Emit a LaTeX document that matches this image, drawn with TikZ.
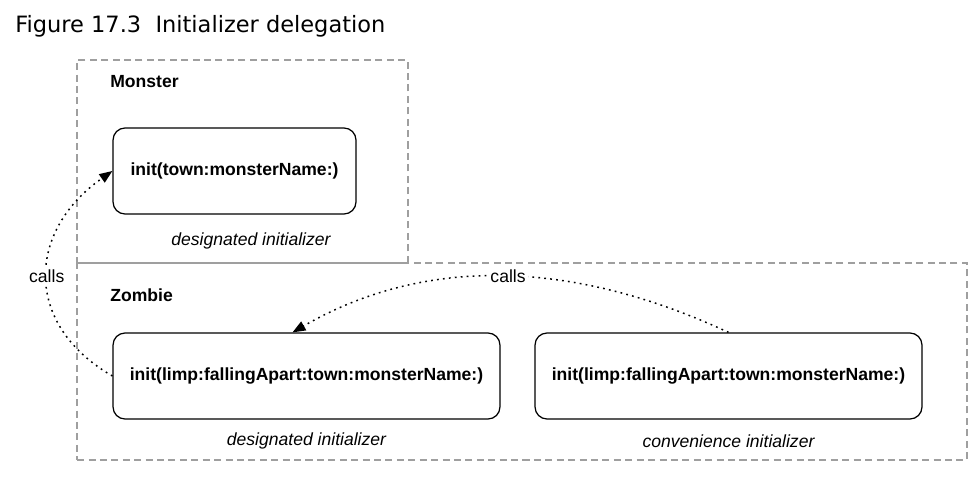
\documentclass[tikz,border=0pt]{standalone}
\usepackage{fontspec}
\setmainfont{Liberation Sans}
\newfontfamily\figfont{DejaVu Sans}
\usetikzlibrary{arrows.meta}

\begin{document}
\begin{tikzpicture}[x=0.02cm,y=-0.02cm]

    \tikzstyle{group}+=[
        draw=gray!75,
        dash pattern=on 4pt off 2.5pt,
        line width = 0.7pt,
        inner sep=0
    ]
    \tikzstyle{init}+=[
        draw,
        rounded corners=2.4mm,
        line width = 0.7pt,
        minimum height=1.72cm,
        font=\fontsize{10}{12}\selectfont\bfseries
    ]
    \tikzstyle{classname}+=[
        anchor=west,
        inner sep=0,
        font=\fontsize{10}{12}\selectfont\bfseries
    ]
    \tikzstyle{kind}+=[
        font=\fontsize{10}{12}\selectfont\itshape
    ]
    \tikzstyle{calls}+=[
        -{Triangle[length=2.6mm,width=2mm]},
        dash pattern=on 1pt off 2.4pt,
        line width = 0.85pt
    ]
    \tikzstyle{callslabel}+=[
        fill=white,
        inner sep=1.5pt,
        font=\fontsize{10}{12}\selectfont
    ]

    \useasboundingbox (0,0) rectangle (972,476);

    % ----------------------------------------------------------------------------
    \coordinate(monsterpos) at (242.5,161.5);
    \coordinate(zombiepos) at (522,361.5);
    \coordinate(minitpos) at (234.5,171);
    \coordinate(zdesigpos) at (306.5,376);
    \coordinate(zconvpos) at (728.5,376);

    % ----------------------------------------------------------------------------
    \node[anchor=base west,inner sep=0,font=\figfont\fontsize{12.8}{15}\selectfont] (title) at (15,33) {Figure 17.3\ \ Initializer delegation};

    % ----------------------------------------------------------------------------
    \node[group,minimum width=6.62cm,minimum height=4.06cm] (monster) at (monsterpos) {};
    \node[group,minimum width=17.8cm,minimum height=3.94cm] (zombie) at (zombiepos) {};
    \node[classname] (monstername) at ([shift=(monsterpos)]-132.5,-79.5) {Monster};
    \node[classname] (zombiename) at ([shift=(zombiepos)]-412,-66.5) {Zombie};

    % ----------------------------------------------------------------------------
    \node[init,minimum width=4.86cm] (minit) at (minitpos) {init(town:monsterName:)};
    \node[init,minimum width=7.74cm] (zdesig) at (zdesigpos) {init(limp:fallingApart:town:monsterName:)};
    \node[init,minimum width=7.74cm] (zconv) at (zconvpos) {init(limp:fallingApart:town:monsterName:)};

    % ----------------------------------------------------------------------------
    \node[kind] (mkind) at ([shift=(minitpos)]16.5,70) {designated initializer};
    \node[kind] (zdesigkind) at ([shift=(zdesigpos)]0,65) {designated initializer};
    \node[kind] (zconvkind) at ([shift=(zconvpos)]0,65) {convenience initializer};

    % ----------------------------------------------------------------------------
    \draw[calls] (zdesig.west) to [out=150, in=215, looseness=1.3] node[callslabel] {calls} (minit.west);
    \draw[calls] (zconv.north) to [out=155, in=30, looseness=0.95] node[callslabel] {calls} ([shift={(-14,0)}]zdesig.north);

\end{tikzpicture}
\end{document}
